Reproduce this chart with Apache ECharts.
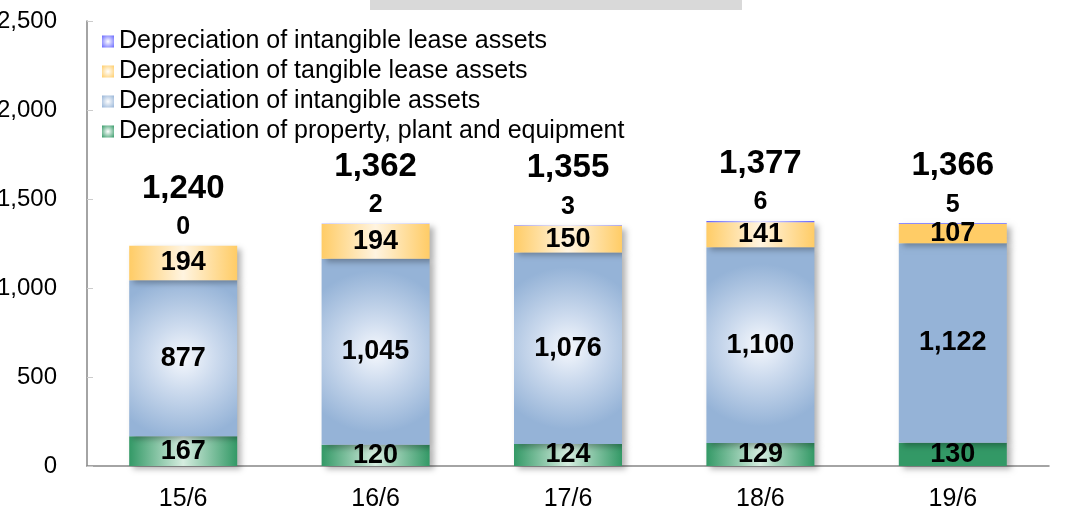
<!DOCTYPE html>
<html>
<head>
<meta charset="utf-8">
<script src="https://cdn.jsdelivr.net/npm/echarts@6/dist/echarts.min.js"></script>
<style>
  html, body { margin: 0; padding: 0; background: #fff; }
  #main { width: 1067px; height: 517px; }
</style>
</head>
<body>
<div id="main"></div>
<script>
// data (stacked depreciation)
var categories = ['15/6', '16/6', '17/6', '18/6', '19/6'];
var ppe = [167, 120, 124, 129, 130];
var intangible = [877, 1045, 1076, 1100, 1122];
var tangibleLease = [194, 194, 150, 141, 107];
var intangibleLease = [0, 2, 3, 6, 5];
var totals = [1240, 1362, 1355, 1377, 1366];

var FONT = 'Liberation Sans, Arial, sans-serif';

function hGrad(c, mid) {
  return new echarts.graphic.LinearGradient(0, 0, 1, 0, [
    {offset: 0, color: c}, {offset: 0.5, color: mid}, {offset: 1, color: c}
  ]);
}
function rGrad(c, mid) {
  return new echarts.graphic.RadialGradient(0.5, 0.5, 0.75, [
    {offset: 0, color: mid}, {offset: 0.4, color: '#cddbee'}, {offset: 1, color: c}
  ]);
}
function iconGrad(c) {
  return new echarts.graphic.RadialGradient(0.5, 0.5, 0.7, [
    {offset: 0, color: '#ffffff'}, {offset: 1, color: c}
  ]);
}

// last column is drawn flat in the original
function withSolid(values, solid) {
  return values.map(function (v, i) {
    return i === values.length - 1 ? {value: v, itemStyle: {color: solid}} : v;
  });
}

var shadow = {shadowColor: 'rgba(0,0,0,0.3)', shadowBlur: 6, shadowOffsetX: 4, shadowOffsetY: 3};
var inLabel = {show: true, position: 'inside', color: '#000', fontSize: 27, fontWeight: 'bold', fontFamily: FONT,
  formatter: function (p) { return p.value.toLocaleString('en-US'); }};

var myChart = echarts.init(document.getElementById('main'));
var option = {
  animation: false,
  textStyle: {fontFamily: FONT},
  graphic: [{
    type: 'rect', left: 370, top: 0, shape: {width: 372, height: 10},
    style: {fill: '#d9d9d9'}
  }],
  legend: {
    orient: 'vertical', left: 102, top: 29, padding: 0, itemGap: 5, itemWidth: 12, itemHeight: 12,
    icon: 'rect',
    textStyle: {fontSize: 25, color: '#000', fontFamily: FONT},
    data: [
      {name: 'Depreciation of intangible lease assets', itemStyle: {color: iconGrad('#6666ff')}},
      {name: 'Depreciation of tangible lease assets', itemStyle: {color: iconGrad('#ffcc66')}},
      {name: 'Depreciation of intangible assets', itemStyle: {color: iconGrad('#95b3d7')}},
      {name: 'Depreciation of property, plant and equipment', itemStyle: {color: iconGrad('#339966')}}
    ]
  },
  grid: {left: 87, right: 18, top: 21, bottom: 51, outerBoundsMode: 'none'},
  xAxis: {
    type: 'category', data: categories,
    axisLine: {lineStyle: {color: '#868686', width: 1.5}},
    axisTick: {show: false},
    axisLabel: {fontSize: 25, color: '#000', margin: 21, fontFamily: FONT}
  },
  yAxis: {
    type: 'value', min: 0, max: 2500, interval: 500,
    axisLine: {show: true, lineStyle: {color: '#868686', width: 1.5}},
    axisTick: {show: true, inside: true, length: 6, lineStyle: {color: '#cccccc'}},
    splitLine: {show: false},
    axisLabel: {fontSize: 24, color: '#000', margin: 30, fontFamily: FONT,
      formatter: function (v) { return v.toLocaleString('en-US'); }}
  },
  series: [
    {
      name: 'Depreciation of property, plant and equipment', type: 'bar', stack: 't', barWidth: 108,
      itemStyle: Object.assign({color: hGrad('#339966', '#d6ede0')}, shadow),
      label: inLabel, data: withSolid(ppe, '#339966')
    },
    {
      name: 'Depreciation of intangible assets', type: 'bar', stack: 't',
      itemStyle: Object.assign({color: rGrad('#95b3d7', '#f5f8fd')}, shadow),
      label: inLabel, data: withSolid(intangible, '#95b3d7')
    },
    {
      name: 'Depreciation of tangible lease assets', type: 'bar', stack: 't',
      itemStyle: Object.assign({color: hGrad('#ffcc66', '#fff4e0')}, shadow),
      label: inLabel, data: withSolid(tangibleLease, '#ffcc66')
    },
    {
      name: 'Depreciation of intangible lease assets', type: 'bar', stack: 't',
      itemStyle: {color: hGrad('#6666ff', '#e0e0ff')},
      label: {show: true, position: 'top', distance: 6, color: '#000', fontSize: 25, fontWeight: 'bold', fontFamily: FONT},
      data: withSolid(intangibleLease, '#6666ff')
    },
    {
      name: 'total', type: 'scatter', symbolSize: 0, silent: true,
      itemStyle: {opacity: 1},
      label: {show: true, position: 'top', distance: 40, color: '#000', fontSize: 33, fontWeight: 'bold', fontFamily: FONT,
        formatter: function (p) { return p.value.toLocaleString('en-US'); }},
      data: totals
    }
  ]
};
myChart.setOption(option);
</script>
</body>
</html>
